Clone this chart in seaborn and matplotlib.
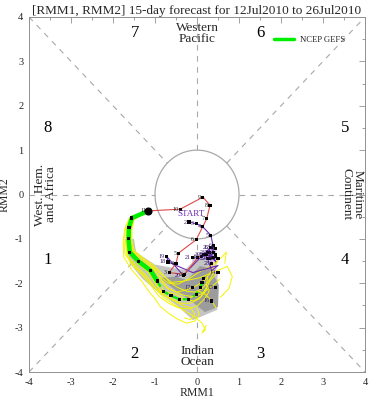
import numpy as np
import pandas as pd
import matplotlib
matplotlib.use("Agg")
import matplotlib.pyplot as plt
import seaborn as sns
from matplotlib.patches import Circle, Polygon

# ---------------- data ----------------
title = "[RMM1, RMM2] 15-day forecast for 12Jul2010 to 26Jul2010"

june_days = list(range(2, 31))
june_rmm1 = [-0.19, -0.02, 0.13, 0.33, 0.40, 0.30, 0.45, 0.38, 0.22, 0.45, 0.35, 0.50, 0.50,
             0.45, 0.35, -0.10, -0.69, -0.72, -0.33, -0.10, 0.10, 0.25, 0.30, 0.40, 0.32,
             0.45, 0.35, 0.25, 0.15]
june_rmm2 = [-0.62, -0.66, -0.72, -0.92, -1.15, -1.30, -1.22, -1.42, -1.36, -1.35, -1.20, -1.45, -1.75,
             -2.10, -2.40, -2.10, -1.52, -1.40, -1.82, -1.42, -1.40, -1.30, -1.45, -1.30, -1.20,
             -1.40, -1.55, -1.45, -1.35]

july_days = list(range(1, 12))
july_rmm1 = [0.02, -0.30, -0.66, -0.50, -0.44, -0.02, 0.23, 0.31, 0.14, -0.40, -1.16]
july_rmm2 = [-1.42, -1.80, -1.76, -1.55, -1.32, -1.02, -0.55, -0.24, -0.06, -0.33, -0.37]

mean_rmm1 = [-1.16, -1.55, -1.62, -1.63, -1.60, -1.40, -1.10, -0.95, -0.80, -0.62, -0.42, -0.20, -0.02, 0.08, 0.12, 0.15]
mean_rmm2 = [-0.37, -0.53, -0.75, -1.00, -1.30, -1.50, -1.72, -1.95, -2.18, -2.28, -2.36, -2.36, -2.25, -2.10, -1.98, -1.90]

members = {
    "m01": [(-1.16,-0.37),(-1.58,-0.5),(-1.7,-0.72),(-1.74,-1.0),(-1.72,-1.32),(-1.55,-1.58),(-1.3,-1.82),(-1.1,-2.05),(-0.9,-2.3),(-0.68,-2.45),(-0.45,-2.55),(-0.2,-2.58),(0.02,-2.5),(0.18,-2.35),(0.28,-2.2),(0.3,-2.05)],
    "m02": [(-1.16,-0.37),(-1.5,-0.57),(-1.55,-0.78),(-1.55,-1.02),(-1.5,-1.25),(-1.3,-1.42),(-1.02,-1.6),(-0.82,-1.8),(-0.65,-1.98),(-0.45,-2.1),(-0.25,-2.18),(-0.05,-2.2),(0.12,-2.12),(0.25,-1.98),(0.35,-1.85),(0.4,-1.72)],
    "m03": [(-1.16,-0.37),(-1.52,-0.55),(-1.58,-0.76),(-1.58,-1.02),(-1.52,-1.28),(-1.3,-1.45),(-1.05,-1.62),(-0.82,-1.82),(-0.6,-1.98),(-0.32,-1.95),(0.05,-1.88),(0.4,-1.75),(0.72,-1.62),(0.84,-1.85),(0.76,-2.12),(0.55,-2.32)],
    "m04": [(-1.16,-0.37),(-1.56,-0.54),(-1.66,-0.78),(-1.68,-1.05),(-1.65,-1.38),(-1.45,-1.6),(-1.18,-1.85),(-1.0,-2.1),(-0.8,-2.32),(-0.55,-2.48),(-0.3,-2.62),(-0.05,-2.76),(0.12,-2.9),(0.2,-3.05),(0.12,-3.12),(0.22,-2.95)],
    "m05": [(-1.16,-0.37),(-1.6,-0.52),(-1.72,-0.78),(-1.76,-1.08),(-1.74,-1.42),(-1.55,-1.7),(-1.32,-1.95),(-1.15,-2.18),(-1.0,-2.35),(-0.88,-2.52),(-0.7,-2.66),(-0.48,-2.8),(-0.25,-2.9),(-0.05,-2.85),(0.05,-2.7),(0.0,-2.55)],
    "m06": [(-1.16,-0.37),(-1.54,-0.55),(-1.6,-0.74),(-1.6,-0.98),(-1.55,-1.26),(-1.35,-1.46),(-1.05,-1.65),(-0.88,-1.85),(-0.68,-2.0),(-0.45,-2.02),(-0.2,-1.9),(0.1,-1.72),(0.35,-1.6),(0.58,-1.42),(0.7,-1.3),(0.66,-1.55)],
    "m07": [(-1.16,-0.37),(-1.57,-0.52),(-1.65,-0.76),(-1.66,-1.02),(-1.62,-1.32),(-1.42,-1.55),(-1.12,-1.78),(-0.98,-2.02),(-0.82,-2.25),(-0.6,-2.35),(-0.38,-2.45),(-0.15,-2.45),(0.05,-2.35),(0.2,-2.18),(0.3,-1.95),(0.45,-1.8)],
    "m08": [(-1.16,-0.37),(-1.53,-0.54),(-1.6,-0.77),(-1.61,-1.04),(-1.57,-1.33),(-1.38,-1.53),(-1.08,-1.74),(-0.92,-1.98),(-0.75,-2.22),(-0.55,-2.32),(-0.3,-2.38),(-0.1,-2.3),(0.05,-2.18),(0.2,-2.25),(0.35,-2.4),(0.45,-2.55)],
    "m09": [(-1.16,-0.37),(-1.56,-0.5),(-1.64,-0.72),(-1.66,-0.98),(-1.64,-1.27),(-1.46,-1.5),(-1.2,-1.7),(-1.05,-1.9),(-0.9,-2.12),(-0.75,-2.3),(-0.55,-2.4),(-0.35,-2.5),(-0.15,-2.55),(-0.05,-2.7),(-0.15,-2.82),(-0.3,-2.78)],
    "m10": [(-1.16,-0.37),(-1.51,-0.56),(-1.57,-0.8),(-1.58,-1.06),(-1.54,-1.34),(-1.34,-1.52),(-1.02,-1.7),(-0.86,-1.9),(-0.7,-2.1),(-0.5,-2.2),(-0.28,-2.28),(-0.05,-2.3),(0.15,-2.22),(0.3,-2.1),(0.45,-2.0),(0.55,-1.9)],
    "m11": [(-1.16,-0.37),(-1.59,-0.55),(-1.68,-0.8),(-1.7,-1.1),(-1.66,-1.4),(-1.48,-1.62),(-1.22,-1.86),(-1.05,-2.05),(-0.88,-2.2),(-0.7,-2.2),(-0.5,-2.25),(-0.3,-2.35),(-0.08,-2.4),(0.1,-2.3),(0.22,-2.1),(0.25,-1.85)],
    "m12": [(-1.16,-0.37),(-1.55,-0.52),(-1.61,-0.74),(-1.62,-1.0),(-1.59,-1.29),(-1.4,-1.49),(-1.12,-1.7),(-0.9,-1.92),(-0.7,-2.12),(-0.48,-2.2),(-0.25,-2.15),(0.0,-2.05),(0.2,-1.92),(0.32,-1.75),(0.42,-1.62),(0.5,-1.5)],
}

spread_light = [(-1.72,-1.0),(-1.5,-1.0),(-1.45,-1.3),(-1.0,-1.58),(-0.6,-1.65),(-0.29,-1.70),(0.0,-1.43),
                (0.31,-1.5),(0.5,-1.93),(0.48,-2.6),(-0.1,-2.83),(-0.48,-2.5),(-0.93,-2.2),(-1.3,-1.9),(-1.6,-1.55)]
spread_dark = [(-0.88,-1.88),(-0.5,-1.85),(-0.24,-1.93),(0.07,-1.61),(0.31,-1.66),(0.52,-2.04),
               (0.5,-2.53),(0.19,-2.65),(-0.17,-2.38),(-0.52,-2.15)]

phase_labels = ["1", "2", "3", "4", "5", "6", "7", "8"]
ticks = [-4, -3, -2, -1, 0, 1, 2, 3, 4]

# ---------------- style ----------------
sns.set_theme(style="white")
plt.rcParams['font.family'] = ['Liberation Serif', 'DejaVu Serif']

fig = plt.figure(figsize=(3.69, 4.0), dpi=100)
ax = fig.add_axes([0.0786, 0.07, 0.9106, 0.8875])
ax.set_xlim(-4, 4)
ax.set_ylim(-4, 4)

grid_col = "#a8a8a8"
# dashed phase lines outside the unit circle
s = 1 / np.sqrt(2)
for (x0, y0, x1, y1) in [(-4, 0, -1, 0), (1, 0, 4, 0), (0, -4, 0, -1), (0, 1, 0, 4),
                         (-4, -4, -s, -s), (s, s, 4, 4), (-4, 4, -s, s), (s, -s, 4, -4)]:
    ax.plot([x0, x1], [y0, y1], color=grid_col, lw=0.8, ls=(0, (5, 5)), zorder=1)
ax.add_patch(Circle((0, 0), 1, fill=False, ec=grid_col, lw=0.9, zorder=1))

# spread shading
ax.add_patch(Polygon(spread_light, closed=True, fc="#c4c4c4", ec="none", zorder=2))
ax.add_patch(Polygon(spread_dark, closed=True, fc="#9c9c9c", ec="none", zorder=2))

# ensemble members
rows = []
for name, pts in members.items():
    for i, (x, y) in enumerate(pts):
        rows.append({"member": name, "step": i, "rmm1": x, "rmm2": y})
mdf = pd.DataFrame(rows)
sns.lineplot(data=mdf, x="rmm1", y="rmm2", units="member", estimator=None, sort=False,
             color="#f4f400", lw=0.7, ax=ax, zorder=3, legend=False)

# observed tracks
jdf = pd.DataFrame({"rmm1": june_rmm1, "rmm2": june_rmm2})
ldf = pd.DataFrame({"rmm1": july_rmm1, "rmm2": july_rmm2})
june_col = "#6a2bb0"
july_col = "#dd4a4a"
sns.lineplot(data=jdf, x="rmm1", y="rmm2", sort=False, color=june_col, lw=0.8, ax=ax, zorder=4)
# connect last June day to first July day
sns.lineplot(x=[june_rmm1[-1], july_rmm1[0]], y=[june_rmm2[-1], july_rmm2[0]], sort=False,
             color=july_col, lw=0.8, ax=ax, zorder=4)
sns.lineplot(data=ldf, x="rmm1", y="rmm2", sort=False, color=july_col, lw=0.8, ax=ax, zorder=4)
sns.scatterplot(x=june_rmm1 + july_rmm1, y=june_rmm2 + july_rmm2, marker="s", s=5,
                color="black", edgecolor="none", ax=ax, zorder=6)
for d, x, y in zip(june_days, june_rmm1, june_rmm2):
    ax.annotate(str(d), (x, y), xytext=(-1.5, 0), textcoords="offset points", ha="right",
                va="center", fontsize=4.3, color="#3a1a70", zorder=7)
for d, x, y in zip(july_days, july_rmm1, july_rmm2):
    ax.annotate(str(d), (x, y), xytext=(-1.5, 0), textcoords="offset points", ha="right",
                va="center", fontsize=4.3, color="#222222", zorder=7)
ax.text(june_rmm1[0] + 0.05, june_rmm2[0] + 0.17, "START", color=june_col, fontsize=6.5,
        ha="center", va="center", zorder=7)

# ensemble-mean forecast (GEFS)
fdf = pd.DataFrame({"rmm1": mean_rmm1, "rmm2": mean_rmm2})
sns.lineplot(data=fdf.iloc[:8], x="rmm1", y="rmm2", sort=False, color="#00ee00", lw=3.2,
             ax=ax, zorder=5, label="NCEP GEFS")
sns.lineplot(data=fdf.iloc[7:], x="rmm1", y="rmm2", sort=False, color="#00ee00", lw=1.6,
             ls=(0, (3, 2)), ax=ax, zorder=5, legend=False)
sns.scatterplot(data=fdf.iloc[1:], x="rmm1", y="rmm2", marker="s", s=5, color="black",
                edgecolor="none", ax=ax, zorder=6, legend=False)
ax.plot(mean_rmm1[0], mean_rmm2[0], "o", color="black", ms=4.8, zorder=7)

leg = ax.legend(loc="upper right", bbox_to_anchor=(0.95, 0.955), frameon=False, fontsize=6.2,
                handlelength=2.4, handletextpad=0.6, borderaxespad=0)
for h in leg.get_lines():
    h.set_linewidth(2.5)

# phase numbers and region names
phase_pos = [(-3.55, -1.47), (-1.48, -3.6), (1.5, -3.6), (3.52, -1.47),
             (3.52, 1.5), (1.5, 3.64), (-1.48, 3.64), (-3.55, 1.5)]
for lab, (x, y) in zip(phase_labels, phase_pos):
    ax.text(x, y, lab, fontsize=12, ha="center", va="center", color="black")
ax.text(0, 3.62, "Western\nPacific", fontsize=9.5, ha="center", va="center", linespacing=0.9)
ax.text(0, -3.66, "Indian\nOcean", fontsize=9.5, ha="center", va="center", linespacing=0.9)
ax.text(-3.6, 0, "West. Hem.\nand Africa", fontsize=9.5, ha="center", va="center",
        rotation=90, linespacing=0.9)
ax.text(3.68, 0, "Maritime\nContinent", fontsize=9.5, ha="center", va="center",
        rotation=270, linespacing=0.9)

# axes, ticks
ax.set_xticks(ticks)
ax.set_yticks(ticks)
ax.set_xticks(np.arange(-4, 4.01, 0.5), minor=True)
ax.set_yticks(np.arange(-4, 4.01, 0.5), minor=True)
ax.set_xticklabels([str(t) for t in ticks])
ax.set_yticklabels([str(t) for t in ticks])
ax.tick_params(which="both", direction="in", top=True, right=True, color="#909090",
               labelsize=7.5, pad=4, width=0.6)
ax.tick_params(which="major", length=4)
ax.tick_params(which="minor", length=2)
for sp in ax.spines.values():
    sp.set_color("#909090")
    sp.set_linewidth(0.7)
ax.set_xlabel("RMM1", fontsize=8.5, labelpad=0)
ax.set_ylabel("RMM2", fontsize=8.5, labelpad=3)
ax.set_title(title, fontsize=9.5, pad=2)
ax.grid(False)

fig.savefig("out.png", dpi=100)
